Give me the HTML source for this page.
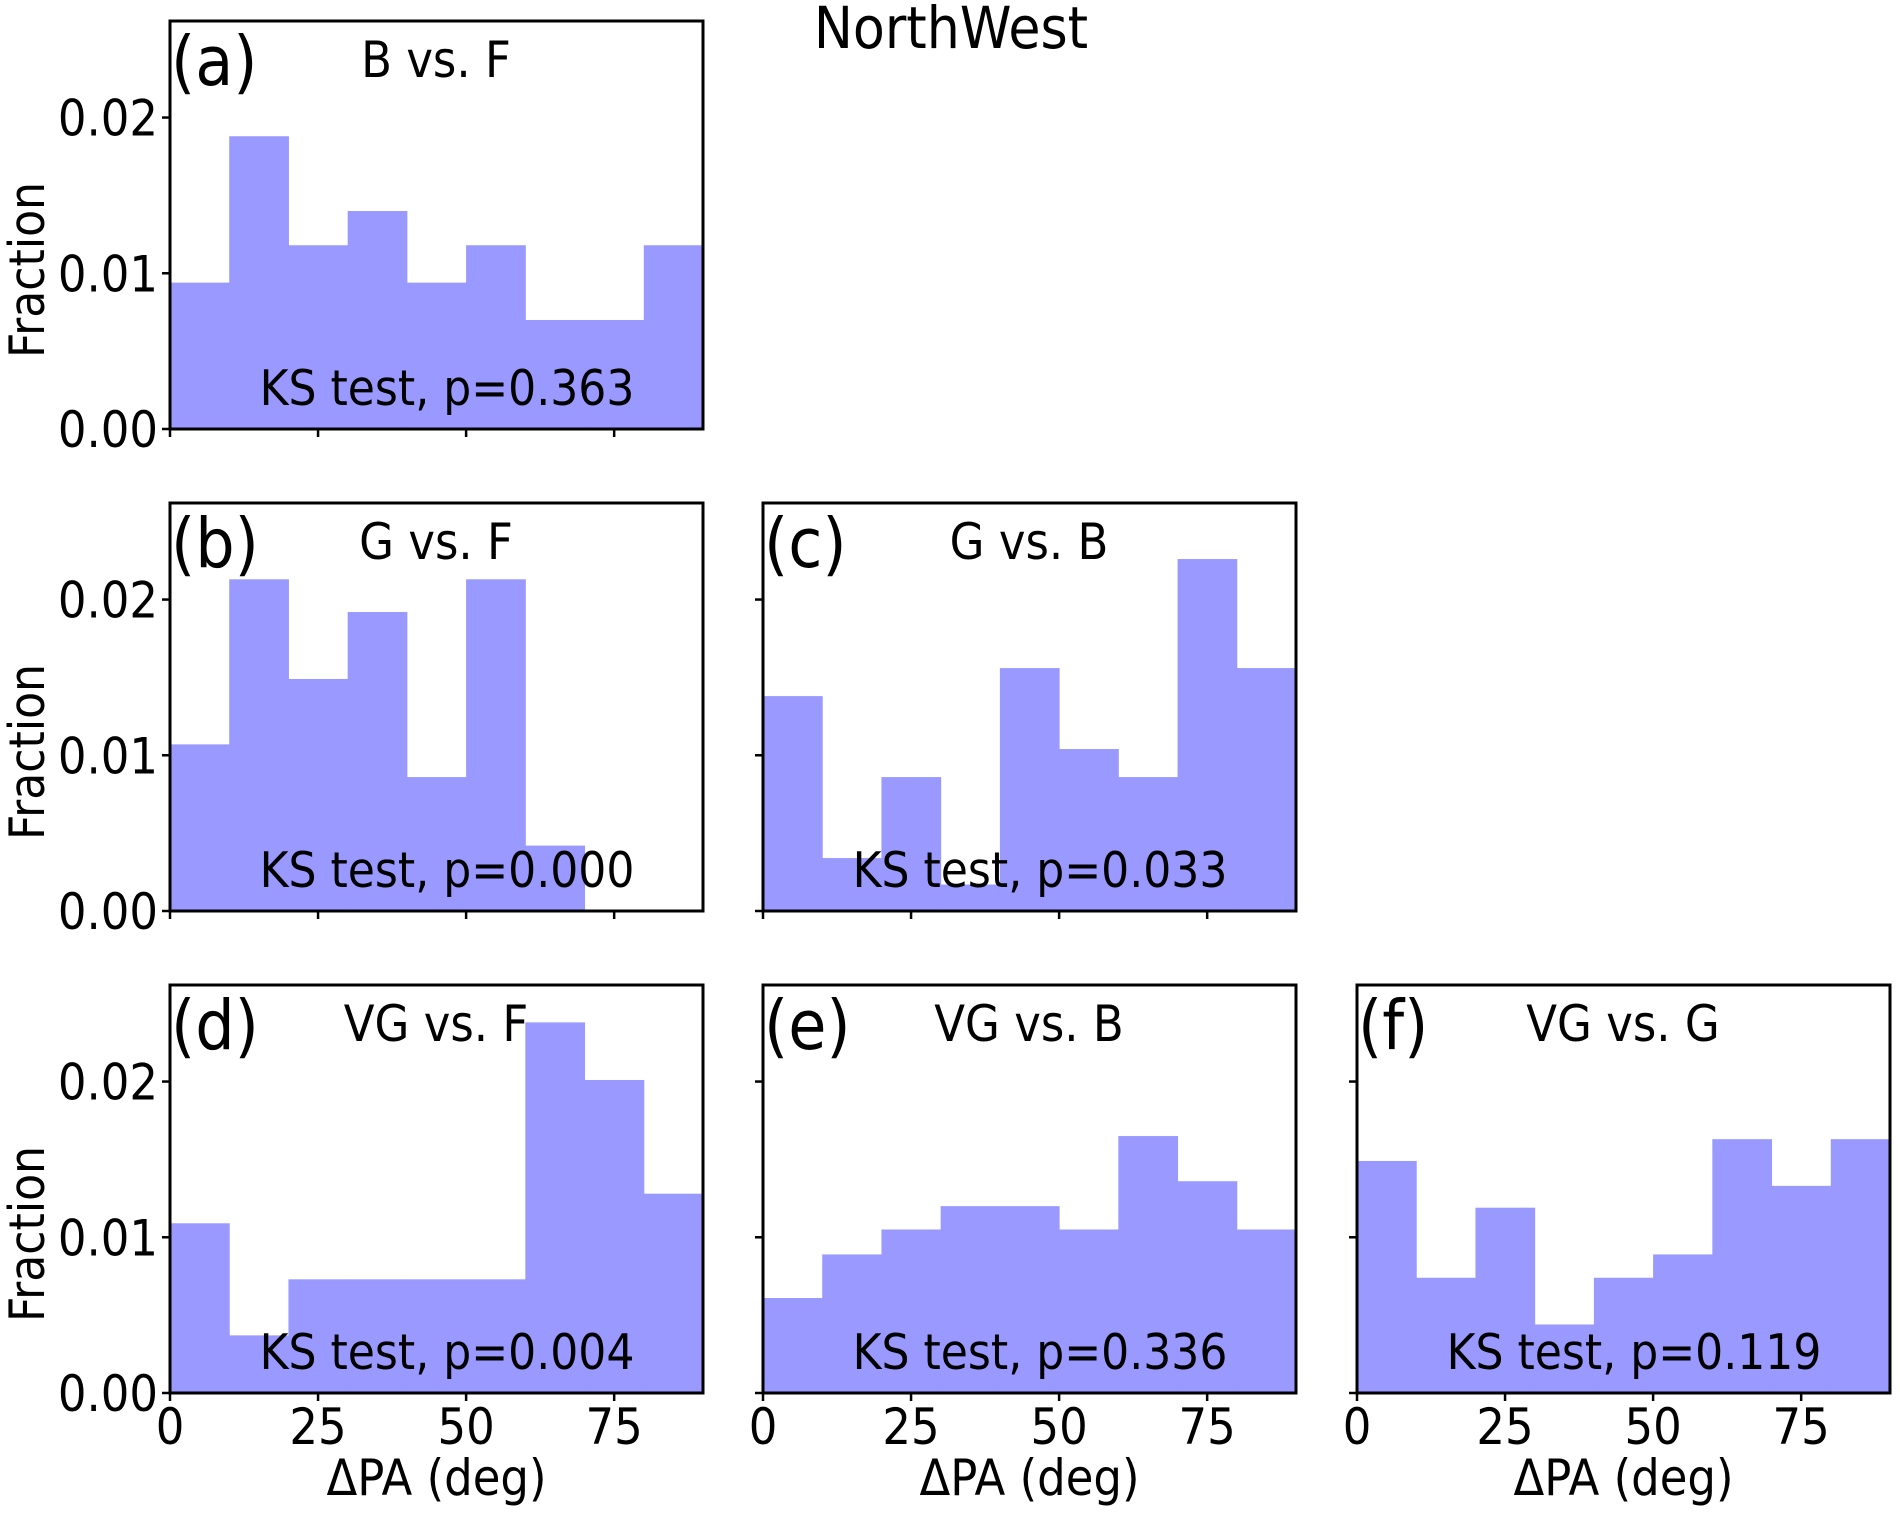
<!DOCTYPE html>
<html><head><meta charset="utf-8"><style>
body{margin:0;background:#fff}
svg{display:block;font-family:"DejaVu Sans","Liberation Sans",sans-serif}
</style></head><body>
<svg id="fig" width="1900" height="1513" viewBox="0 0 1900 1513" xmlns="http://www.w3.org/2000/svg"></svg>
<script>
const binEdgesDeg = [0,10,20,30,40,50,60,70,80,90];
const xTicks = [0,25,50,75];
const yTicks = [0,0.01,0.02];
const yTickLabels = ["0.00","0.01","0.02"];
const panelLetters = ["(a)","(b)","(c)","(d)","(e)","(f)"];
const panelTitles = ["B vs. F","G vs. F","G vs. B","VG vs. F","VG vs. B","VG vs. G"];
const ksValues = ["0.363","0.000","0.033","0.004","0.336","0.119"];
const valsA = [0.0094,0.0188,0.0118,0.0140,0.0094,0.0118,0.0070,0.0070,0.0118];
const valsB = [0.0107,0.0213,0.0149,0.0192,0.0086,0.0213,0.0042,0,0];
const valsC = [0.0138,0.0034,0.0086,0.0017,0.0156,0.0104,0.0086,0.0226,0.0156];
const valsD = [0.0109,0.0037,0.0073,0.0073,0.0073,0.0073,0.0238,0.0201,0.0128];
const valsE = [0.0061,0.0089,0.0105,0.0120,0.0120,0.0105,0.0165,0.0136,0.0105];
const valsF = [0.0149,0.0074,0.0119,0.0044,0.0074,0.0089,0.0163,0.0133,0.0163];
const allVals = [valsA,valsB,valsC,valsD,valsE,valsF];

const NS="http://www.w3.org/2000/svg";
const svg=document.getElementById('fig');
const layout=[[0,0],[1,0],[1,1],[2,0],[2,1],[2,2]];
const colL=[170,763,1357], rowT=[21,503,985], W=533, H=408;
const XMAX=90, YMAX=0.0262;
function mk(tag,attrs,parent){const e=document.createElementNS(NS,tag);for(const k in attrs)e.setAttribute(k,attrs[k]);(parent||svg).appendChild(e);return e;}
function txt(str,x,y,size,anchor,parent,sx){const t=mk('text',{transform:`translate(${x},${y}) scale(${sx||0.9},1)`,'font-size':size,'text-anchor':anchor||'start',fill:'#000'},parent);t.textContent=str;return t;}

const ttl=txt("NorthWest",951,48,58,'middle');



layout.forEach((rc,i)=>{
  const r=rc[0],c=rc[1];
  const L=colL[c],T=rowT[r],B=T+H;
  const g=mk('g',{});
  
  
  const xs=v=>L+v/XMAX*W, ys=v=>B-v/YMAX*H;
  allVals[i].forEach((v,k)=>{
    if(v<=0)return;
    const x0=xs(binEdgesDeg[k]),x1=xs(binEdgesDeg[k+1]);
    const b=mk('rect',{x:x0,y:ys(v),width:x1-x0+0.5,height:B-ys(v),fill:'#9999ff'},g);
    
    
  });
  const fr=mk('rect',{x:L,y:T,width:W,height:H,fill:'none',stroke:'#000','stroke-width':3},g);
  
  
  yTicks.forEach((v,k)=>{
    mk('line',{x1:L-8,x2:L,y1:ys(v),y2:ys(v),stroke:'#000','stroke-width':2.5},g);
    if(c===0){const t=txt(yTickLabels[k],L-12,ys(v)+18,50,'end',g);
      
      }
  });
  xTicks.forEach(v=>{
    mk('line',{x1:xs(v),x2:xs(v),y1:B,y2:B+8,stroke:'#000','stroke-width':2.5},g);
    if(r===2){const t=txt(String(v),xs(v),B+51,50,'middle',g);
      
      }
  });
  const lt=txt(panelLetters[i],L+1,T+64,69,'start',g);
  
  
  const pt=txt(panelTitles[i],L+266,T+56,50,'middle',g);
  
  
  const ks=txt("KS test, p="+ksValues[i],L+277,T+384,49,'middle',g);
  
  
  if(c===0){const yl=mk('text',{transform:`translate(44,${T+H/2+45}) rotate(-90) scale(0.9,1)`,'font-size':49,'text-anchor':'middle'},g);
    yl.textContent='Fraction';
    
    }
  if(r===2){const xl=txt("ΔPA (deg)",L+W/2,B+102,50,'middle',g);
    
    }
});
</script>
</body></html>
